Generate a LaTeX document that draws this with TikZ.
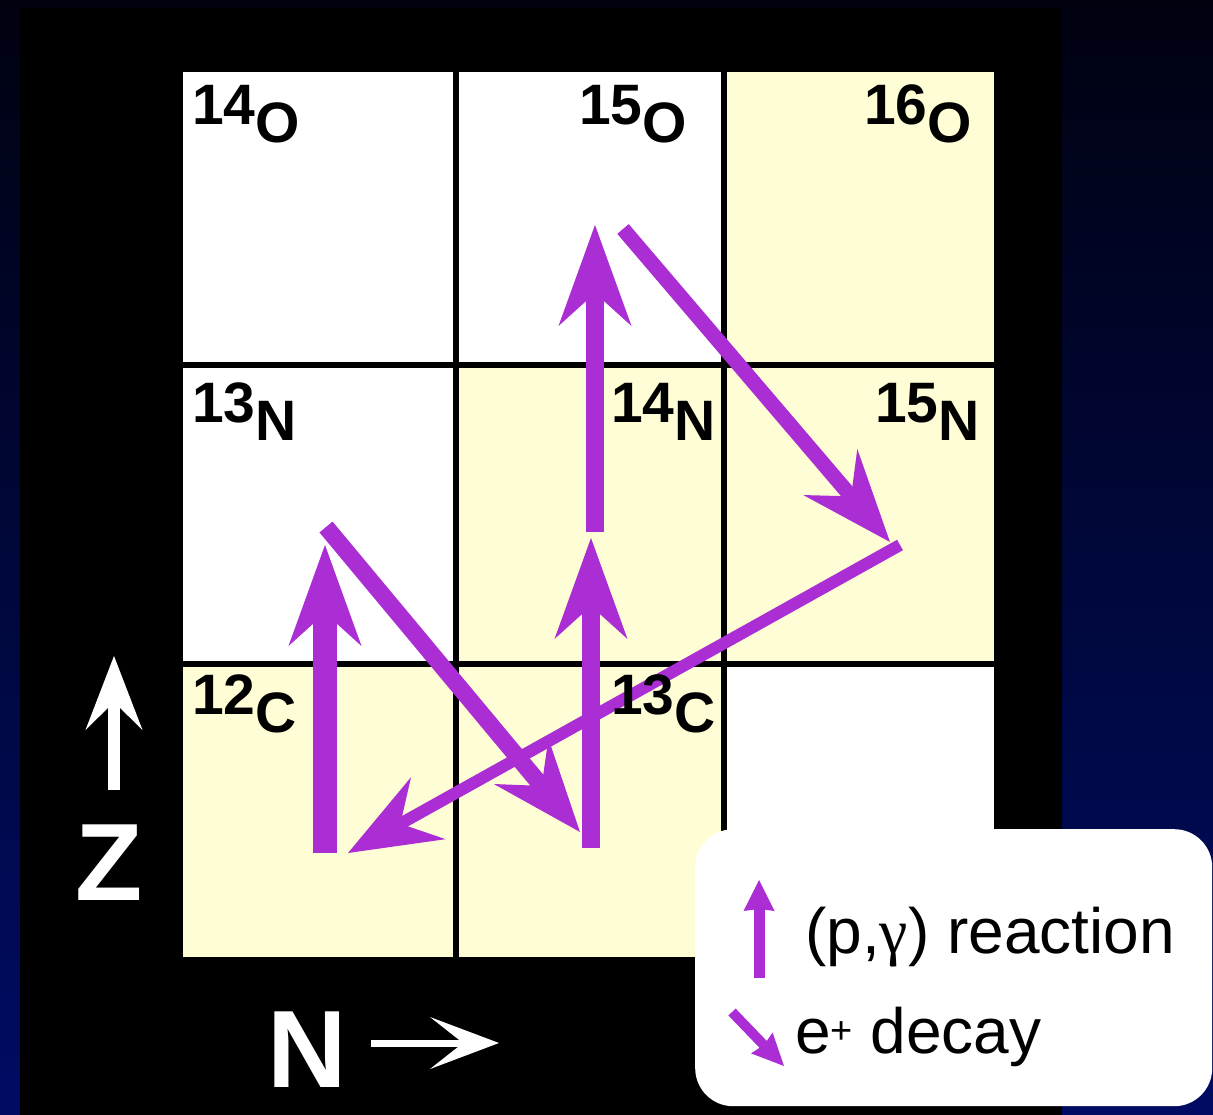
\documentclass[tikz,border=0pt]{standalone}
\usepackage{fontspec}
\setmainfont{Liberation Sans}
\newfontfamily\greekfont{Liberation Serif}
\usetikzlibrary{arrows.meta}

\definecolor{cnopurple}{RGB}{171,46,212}
\definecolor{cnoyellow}{RGB}{255,253,214}
\definecolor{bgtop}{RGB}{0,2,16}
\definecolor{bgbottom}{RGB}{0,12,100}

\begin{document}
\begin{tikzpicture}[x=1pt,y=-1pt,
  gridline/.style={line width=5.5pt},
  iso/.style={anchor=base west,inner sep=0pt,font=\fontsize{57}{60}\selectfont\bfseries},
  axislabel/.style={anchor=base west,inner sep=0pt,text=white,font=\fontsize{110}{112}\selectfont\bfseries},
  legendtext/.style={anchor=base west,inner sep=0pt,font=\fontsize{64}{66}\selectfont},
  reaction/.style={draw=cnopurple,line width=#1,-{Stealth[length=101pt,width=73pt,inset=33pt,line width=0pt]}},
  decay/.style={draw=cnopurple,line width=#1,-{Stealth[length=92pt,width=71pt,inset=32pt,line width=0pt]}}]
\path[use as bounding box] (0,0) rectangle (1213,1115);
\shade[top color=bgtop,bottom color=bgbottom] (0,0) rectangle (1213,1115);
\fill[black] (20,8) rectangle (1062,1115);

% chart cells
\fill[white] (180,69) rectangle (724,365);
\fill[white] (180,365) rectangle (456,664);
\fill[white] (724,664) rectangle (997,960);
\fill[cnoyellow] (724,69) rectangle (997,365);
\fill[cnoyellow] (456,365) rectangle (997,664);
\fill[cnoyellow] (180,664) rectangle (724,960);
\draw[gridline] (180,69) rectangle (997,960);
\draw[gridline] (456,69) -- (456,960);
\draw[gridline] (724,69) -- (724,960);
\draw[gridline] (180,365) -- (997,365);
\draw[gridline] (180,664) -- (997,664);

% cycle arrows
\coordinate (c12) at (325,853);
\coordinate (n13) at (325,545);
\coordinate (n13b) at (326,527);
\coordinate (c13) at (580,832);
\coordinate (c13b) at (591,848);
\coordinate (n14) at (591,538);
\coordinate (n14b) at (595,532);
\coordinate (o15) at (595,225);
\coordinate (o15b) at (623,229);
\coordinate (n15) at (890,542);
\coordinate (n15b) at (900,545);
\coordinate (c12b) at (348,853);
\draw[reaction=24pt] (c12) -- (n13);
\draw[decay=17pt] (n13b) -- (c13);
\draw[reaction=18pt] (c13b) -- (n14);
\draw[reaction=18pt] (n14b) -- (o15);
\draw[decay=15pt] (o15b) -- (n15);
\draw[decay=12pt] (n15b) -- (c12b);

% isotope labels
\node[iso] (O14) at (192,143) {\raisebox{18pt}{14}O};
\node[iso] (O15) at (579,143) {\raisebox{18pt}{15}O};
\node[iso] (O16) at (864,143) {\raisebox{18pt}{16}O};
\node[iso] (N13) at (192,440) {\raisebox{18pt}{13}N};
\node[iso] (N14) at (611,440) {\raisebox{18pt}{14}N};
\node[iso] (N15) at (875,440) {\raisebox{18pt}{15}N};
\node[iso] (C12) at (192,732) {\raisebox{18pt}{12}C};
\node[iso] (C13) at (611,732) {\raisebox{18pt}{13}C};

% axes
\node[axislabel] (zlabel) at (75,900) {Z};
\node[axislabel] (nlabel) at (267,1087) {N};
\coordinate (zfoot) at (114,790);
\coordinate (ztip) at (114,656);
\coordinate (nfoot) at (371,1043);
\coordinate (ntip) at (499,1043);
\draw[white,line width=12pt,-{Stealth[length=74pt,width=57pt,inset=28pt,line width=0pt]}] (zfoot) -- (ztip);
\draw[white,line width=7pt,-{Stealth[length=69pt,width=52pt,inset=33pt,line width=0pt]}] (nfoot) -- (ntip);

% legend
\node[fill=white,rounded corners=38pt,anchor=north west,minimum width=517pt,minimum height=277pt] (legend) at (695,829) {};
\coordinate (lupfoot) at (759,978);
\coordinate (luptip) at (759,880);
\coordinate (ldnfoot) at (732,1012);
\coordinate (ldntip) at (784,1066);
\draw[cnopurple,line width=11pt,-{Stealth[length=31pt,width=31pt,inset=2pt,line width=0pt]}] (lupfoot) -- (luptip);
\draw[cnopurple,line width=10pt,-{Stealth[length=32pt,width=30pt,inset=3pt,line width=0pt]}] (ldnfoot) -- (ldntip);
\node[legendtext] (lreact) at (805,953) {(p,{\greekfont γ}) reaction};
\node[legendtext] (ldecay) at (795,1053) {e\raisebox{10pt}{\fontsize{38}{40}\selectfont +} decay};
\end{tikzpicture}
\end{document}
